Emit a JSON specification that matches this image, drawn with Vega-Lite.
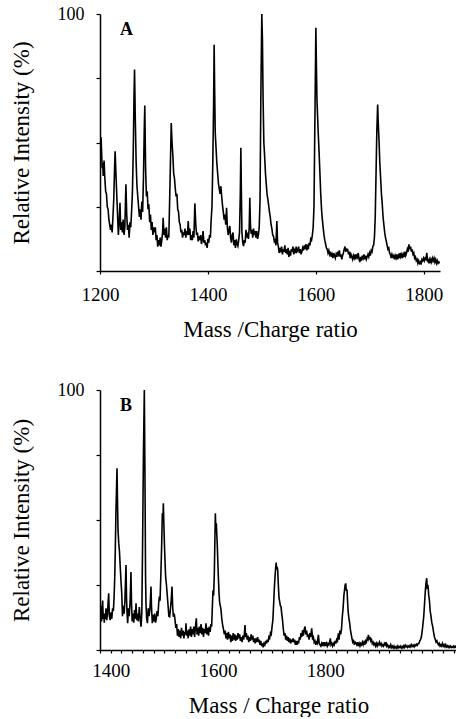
{
"$schema": "https://vega.github.io/schema/vega-lite/v6.json",
"background": "white",
"padding": {"left": 10, "top": 5, "right": 0, "bottom": 0},
"spacing": 40,
"config": {
  "view": {"stroke": null},
  "font": "'Liberation Serif', 'DejaVu Serif'",
  "axis": {"grid": false, "domainColor": "black", "domainWidth": 1.5, "tickColor": "black", "tickWidth": 1.2, "labelColor": "black", "titleColor": "black", "titleFontWeight": "normal", "labelFont": "'Liberation Serif', 'DejaVu Serif'", "titleFont": "'Liberation Serif', 'DejaVu Serif'", "labelOverlap": false, "labelFlush": false},
  "title": {"font": "'Liberation Serif', 'DejaVu Serif'", "fontWeight": "bold", "fontSize": 18, "color": "black", "anchor": "start", "frame": "group", "baseline": "alphabetic", "offset": -34, "dx": 20}
},
"datasets": {
"a": [
{"m":1200,"i":50},{"m":1201,"i":44},{"m":1202,"i":52},{"m":1203,"i":46},{"m":1204,"i":40},{"m":1205,"i":42},{"m":1206,"i":37},{"m":1207.5,"i":43},{"m":1209,"i":36},{"m":1210.5,"i":31},{"m":1212,"i":30},{"m":1213.5,"i":25},{"m":1215,"i":24},{"m":1216.5,"i":20},{"m":1218,"i":18},{"m":1219.5,"i":16},{"m":1221,"i":18},{"m":1222.5,"i":15},{"m":1224,"i":21},{"m":1225.5,"i":28},{"m":1227,"i":40},{"m":1228,"i":46.6},{"m":1229.5,"i":38},{"m":1231,"i":30},{"m":1232.5,"i":22},{"m":1234,"i":14},{"m":1235.5,"i":19},{"m":1237,"i":26.5},{"m":1238.5,"i":16},{"m":1240,"i":19},{"m":1241.5,"i":15},{"m":1243,"i":20},{"m":1244.5,"i":14},{"m":1246,"i":17},{"m":1247,"i":25},{"m":1248,"i":33.7},{"m":1249.5,"i":22},{"m":1251,"i":16},{"m":1252.5,"i":18},{"m":1254,"i":13},{"m":1255.5,"i":19},{"m":1257,"i":17},{"m":1258.5,"i":23},{"m":1260,"i":30},{"m":1261.5,"i":45},{"m":1263,"i":68},{"m":1264,"i":78.4},{"m":1265.5,"i":58},{"m":1267,"i":42},{"m":1268.5,"i":33},{"m":1270,"i":29},{"m":1271.5,"i":25},{"m":1273,"i":21},{"m":1274.5,"i":24},{"m":1276,"i":20},{"m":1277.5,"i":27},{"m":1279,"i":23},{"m":1280.5,"i":36},{"m":1282,"i":55},{"m":1283,"i":64.4},{"m":1284.5,"i":40},{"m":1286,"i":29},{"m":1287.5,"i":31},{"m":1289,"i":24},{"m":1290.5,"i":26},{"m":1292,"i":19},{"m":1293.5,"i":22},{"m":1295,"i":16},{"m":1296.5,"i":19},{"m":1298,"i":14},{"m":1299.5,"i":17},{"m":1301,"i":15},{"m":1302.5,"i":17},{"m":1304,"i":12},{"m":1305.5,"i":14},{"m":1307,"i":9.5},{"m":1308.5,"i":12},{"m":1310,"i":10},{"m":1311.5,"i":13},{"m":1313,"i":9.5},{"m":1314.5,"i":12},{"m":1316,"i":15},{"m":1317,"i":20.7},{"m":1318.5,"i":14},{"m":1320,"i":16.5},{"m":1321.5,"i":13},{"m":1323,"i":17},{"m":1324.5,"i":12},{"m":1326,"i":14},{"m":1327.5,"i":13},{"m":1329,"i":27},{"m":1330.5,"i":42},{"m":1332,"i":57.6},{"m":1333.5,"i":50},{"m":1335,"i":45},{"m":1336.5,"i":38},{"m":1338,"i":36},{"m":1339.5,"i":32},{"m":1341,"i":29},{"m":1342.5,"i":30},{"m":1344,"i":24},{"m":1345.5,"i":23},{"m":1347,"i":19},{"m":1348.5,"i":18},{"m":1350,"i":15},{"m":1351.5,"i":16},{"m":1353,"i":13},{"m":1354.5,"i":15},{"m":1356,"i":14},{"m":1357.5,"i":16.5},{"m":1359,"i":13},{"m":1360.5,"i":15.5},{"m":1362,"i":14},{"m":1363.5,"i":19.4},{"m":1365,"i":14},{"m":1366.5,"i":16.5},{"m":1368,"i":12},{"m":1369.5,"i":14},{"m":1371,"i":12},{"m":1372.5,"i":15.5},{"m":1374,"i":13},{"m":1375.8,"i":26.3},{"m":1377.5,"i":18},{"m":1379,"i":14},{"m":1380.5,"i":15},{"m":1382,"i":11.5},{"m":1383.5,"i":13.5},{"m":1385,"i":12},{"m":1386.5,"i":14},{"m":1388,"i":10.5},{"m":1389.5,"i":12.5},{"m":1391,"i":15.5},{"m":1392.5,"i":11},{"m":1394,"i":12},{"m":1395.5,"i":10},{"m":1397,"i":11},{"m":1398.5,"i":9},{"m":1400,"i":12.5},{"m":1401.5,"i":11},{"m":1403,"i":14},{"m":1404.5,"i":13},{"m":1406,"i":20},{"m":1407.5,"i":25},{"m":1409,"i":42},{"m":1410.5,"i":65},{"m":1411.5,"i":88},{"m":1412.5,"i":70},{"m":1413.5,"i":54},{"m":1415,"i":48},{"m":1416.5,"i":42},{"m":1418,"i":38},{"m":1419.5,"i":34},{"m":1421,"i":32},{"m":1422.5,"i":30},{"m":1424,"i":33},{"m":1425.5,"i":29},{"m":1427,"i":25.5},{"m":1428.5,"i":23},{"m":1430,"i":20},{"m":1431.5,"i":22},{"m":1433,"i":18},{"m":1434.5,"i":24.6},{"m":1436,"i":17},{"m":1437.5,"i":14},{"m":1439,"i":16},{"m":1440.5,"i":17.5},{"m":1442,"i":13},{"m":1443.5,"i":11},{"m":1445,"i":14},{"m":1446.5,"i":15},{"m":1448,"i":10},{"m":1449.5,"i":12},{"m":1451,"i":9},{"m":1452.5,"i":12.3},{"m":1454,"i":10.5},{"m":1455.5,"i":9.7},{"m":1457,"i":12},{"m":1458.5,"i":15},{"m":1460,"i":30},{"m":1461,"i":48},{"m":1462,"i":30},{"m":1463,"i":15},{"m":1464.5,"i":11},{"m":1466,"i":9.7},{"m":1467.5,"i":12},{"m":1469,"i":11},{"m":1470.5,"i":16},{"m":1472,"i":13},{"m":1473.5,"i":14},{"m":1475,"i":12.5},{"m":1476.5,"i":17},{"m":1477.6,"i":28.5},{"m":1478.8,"i":18},{"m":1480,"i":14.5},{"m":1481.5,"i":16},{"m":1483,"i":13},{"m":1484.5,"i":16.5},{"m":1486,"i":14},{"m":1487.5,"i":15.5},{"m":1489,"i":13},{"m":1490.5,"i":15.5},{"m":1492,"i":12.5},{"m":1493.5,"i":14},{"m":1495,"i":17},{"m":1496.5,"i":27},{"m":1498,"i":66.7},{"m":1499.8,"i":100},{"m":1501,"i":90},{"m":1502.2,"i":66.7},{"m":1503.6,"i":50},{"m":1505,"i":45},{"m":1506.6,"i":38},{"m":1508,"i":34},{"m":1509.5,"i":30},{"m":1511,"i":28},{"m":1512.8,"i":25},{"m":1514,"i":23},{"m":1515.5,"i":21},{"m":1517,"i":18},{"m":1518.5,"i":16.5},{"m":1520,"i":14},{"m":1521.5,"i":13.5},{"m":1523,"i":11.5},{"m":1524.5,"i":12},{"m":1526,"i":10},{"m":1527.7,"i":19.4},{"m":1529,"i":11},{"m":1530.5,"i":9.5},{"m":1532,"i":7},{"m":1533.5,"i":9},{"m":1535,"i":8},{"m":1536.5,"i":9.5},{"m":1538,"i":6.5},{"m":1539.5,"i":8.5},{"m":1541,"i":7.5},{"m":1542.5,"i":10},{"m":1544,"i":7},{"m":1545.5,"i":8.5},{"m":1547,"i":6.5},{"m":1548.5,"i":9},{"m":1550,"i":5.5},{"m":1551.5,"i":7},{"m":1553,"i":6},{"m":1554.5,"i":8.5},{"m":1556,"i":7.5},{"m":1557.5,"i":9.5},{"m":1559,"i":6.5},{"m":1560.5,"i":8},{"m":1562,"i":7},{"m":1563.5,"i":9.5},{"m":1565,"i":7.5},{"m":1566.5,"i":8},{"m":1568,"i":9.5},{"m":1569.5,"i":7},{"m":1571,"i":8.5},{"m":1572.5,"i":6.5},{"m":1574,"i":7.5},{"m":1575.5,"i":9},{"m":1577,"i":8},{"m":1578.5,"i":10},{"m":1580,"i":8.5},{"m":1581.5,"i":10.5},{"m":1583,"i":8},{"m":1584.5,"i":9.5},{"m":1586,"i":8.5},{"m":1587.5,"i":11},{"m":1589,"i":10},{"m":1590.5,"i":12.5},{"m":1592,"i":12},{"m":1593.5,"i":14},{"m":1595,"i":17},{"m":1596.5,"i":25},{"m":1598,"i":55},{"m":1600,"i":94.6},{"m":1601,"i":80},{"m":1602,"i":66.7},{"m":1603.2,"i":60},{"m":1604.5,"i":53},{"m":1606,"i":46},{"m":1607.5,"i":38},{"m":1609,"i":30},{"m":1610.5,"i":24},{"m":1612,"i":20},{"m":1613.5,"i":17},{"m":1615,"i":14},{"m":1616.5,"i":12},{"m":1618,"i":10.5},{"m":1619.5,"i":9},{"m":1621,"i":8.5},{"m":1622.5,"i":7},{"m":1624,"i":8},{"m":1625.5,"i":6.5},{"m":1627,"i":7.5},{"m":1628.5,"i":5.5},{"m":1630,"i":6.5},{"m":1631.5,"i":5},{"m":1633,"i":7},{"m":1634.5,"i":6},{"m":1636,"i":5},{"m":1637.5,"i":6.5},{"m":1639,"i":5.5},{"m":1640.5,"i":7.5},{"m":1642,"i":6.5},{"m":1643.5,"i":8},{"m":1645,"i":5.5},{"m":1646.5,"i":6.5},{"m":1648,"i":4.5},{"m":1649.5,"i":6},{"m":1651,"i":7},{"m":1652.5,"i":8.5},{"m":1654,"i":9.5},{"m":1655.5,"i":7.5},{"m":1657,"i":8.5},{"m":1658.8,"i":8.4},{"m":1660.5,"i":6.5},{"m":1662,"i":7.5},{"m":1663.5,"i":5},{"m":1665,"i":6.5},{"m":1666.5,"i":5.5},{"m":1668,"i":4.5},{"m":1669.5,"i":6},{"m":1671,"i":5},{"m":1672.5,"i":6.5},{"m":1674,"i":4.5},{"m":1675.5,"i":6.5},{"m":1677,"i":5.5},{"m":1678.5,"i":7},{"m":1680,"i":4.5},{"m":1681.5,"i":3.5},{"m":1683,"i":5.5},{"m":1684.5,"i":4},{"m":1686,"i":6},{"m":1687.5,"i":5},{"m":1689,"i":6.5},{"m":1690.5,"i":4.5},{"m":1692,"i":6},{"m":1693.5,"i":4.5},{"m":1695,"i":5.5},{"m":1696.5,"i":6.5},{"m":1698,"i":5.5},{"m":1699.5,"i":7},{"m":1701,"i":6},{"m":1702.5,"i":8},{"m":1704,"i":7.5},{"m":1705.5,"i":9.5},{"m":1707,"i":10},{"m":1708.5,"i":13},{"m":1710,"i":21},{"m":1711.5,"i":38},{"m":1713,"i":55},{"m":1714.5,"i":64.8},{"m":1715.5,"i":58},{"m":1717,"i":51},{"m":1718.5,"i":42},{"m":1720,"i":36},{"m":1721.5,"i":30},{"m":1723,"i":26},{"m":1724.5,"i":21},{"m":1726,"i":18},{"m":1727.5,"i":15},{"m":1729,"i":13},{"m":1730.5,"i":11.5},{"m":1732,"i":10},{"m":1733.5,"i":8.5},{"m":1735,"i":9},{"m":1736.5,"i":7},{"m":1738,"i":6.5},{"m":1739.5,"i":5},{"m":1741,"i":6.5},{"m":1742.5,"i":5.5},{"m":1744,"i":6},{"m":1745.5,"i":4.5},{"m":1747,"i":6},{"m":1748.5,"i":5},{"m":1750,"i":6.5},{"m":1751.5,"i":4.5},{"m":1753,"i":6},{"m":1754.5,"i":5},{"m":1756,"i":7},{"m":1757.5,"i":5.5},{"m":1759,"i":6.5},{"m":1760.5,"i":5},{"m":1762,"i":6.5},{"m":1763.5,"i":5.5},{"m":1765,"i":7.5},{"m":1766.5,"i":6},{"m":1768,"i":7},{"m":1769.5,"i":8.5},{"m":1771,"i":7.5},{"m":1772.5,"i":10.4},{"m":1774,"i":8.5},{"m":1775.5,"i":9.5},{"m":1777,"i":7.5},{"m":1778.5,"i":8.4},{"m":1780,"i":6.5},{"m":1781.5,"i":7},{"m":1783,"i":5},{"m":1784.5,"i":5.5},{"m":1786,"i":4},{"m":1787.5,"i":4.5},{"m":1789,"i":3},{"m":1790.5,"i":4},{"m":1792,"i":3},{"m":1793.5,"i":3.5},{"m":1795,"i":2.5},{"m":1796.5,"i":4.5},{"m":1798,"i":4},{"m":1799.5,"i":5},{"m":1801,"i":4},{"m":1802.5,"i":5},{"m":1804,"i":4.5},{"m":1805.5,"i":7.1},{"m":1807,"i":4},{"m":1808.5,"i":3.5},{"m":1810,"i":4.5},{"m":1811.5,"i":3},{"m":1813,"i":4.5},{"m":1814.5,"i":3.5},{"m":1816,"i":5},{"m":1817.5,"i":4},{"m":1819,"i":5},{"m":1820.5,"i":3.5},{"m":1822,"i":4.5},{"m":1823.5,"i":3},{"m":1825,"i":4},{"m":1826.5,"i":3},{"m":1828,"i":3.5},{"m":1829.5,"i":3}
],
"b": [
{"m":1380,"i":25},{"m":1381,"i":13},{"m":1382,"i":17},{"m":1383,"i":11},{"m":1384,"i":15},{"m":1385,"i":19},{"m":1386,"i":12},{"m":1387,"i":14},{"m":1388,"i":10.5},{"m":1389,"i":14},{"m":1390,"i":12},{"m":1391.2,"i":16},{"m":1392.5,"i":11.5},{"m":1394,"i":14},{"m":1395,"i":18},{"m":1396.2,"i":21.8},{"m":1397.5,"i":13},{"m":1399,"i":11.5},{"m":1400.5,"i":14.5},{"m":1402,"i":12},{"m":1403.5,"i":16},{"m":1405,"i":15},{"m":1406.3,"i":20.5},{"m":1407.5,"i":28},{"m":1408.5,"i":38},{"m":1409.8,"i":53.8},{"m":1410.8,"i":62},{"m":1411.7,"i":69.9},{"m":1412.6,"i":58},{"m":1413.6,"i":46},{"m":1415,"i":41},{"m":1416.3,"i":38},{"m":1417.5,"i":33},{"m":1419,"i":27},{"m":1420.5,"i":22},{"m":1422,"i":13},{"m":1423.5,"i":17},{"m":1425,"i":14},{"m":1426.5,"i":19},{"m":1427.5,"i":26},{"m":1428.5,"i":32.7},{"m":1429.5,"i":20},{"m":1430.5,"i":14},{"m":1431.6,"i":10.3},{"m":1433,"i":16},{"m":1434.5,"i":13},{"m":1436,"i":18},{"m":1437,"i":24},{"m":1437.8,"i":30},{"m":1438.8,"i":18},{"m":1440,"i":11},{"m":1441.5,"i":14},{"m":1443,"i":10.5},{"m":1444.5,"i":15.4},{"m":1446,"i":12},{"m":1447.2,"i":18},{"m":1448.5,"i":11.5},{"m":1450,"i":14},{"m":1451.5,"i":11},{"m":1453.4,"i":16.5},{"m":1455,"i":12},{"m":1456.5,"i":9},{"m":1458,"i":14},{"m":1459.6,"i":43.6},{"m":1461,"i":75},{"m":1462.7,"i":100},{"m":1463.8,"i":69},{"m":1465,"i":28},{"m":1465.8,"i":18},{"m":1467,"i":12},{"m":1468.5,"i":10.3},{"m":1470,"i":16},{"m":1471.5,"i":13},{"m":1473,"i":15.4},{"m":1474.2,"i":20},{"m":1475.1,"i":24.4},{"m":1476.2,"i":16},{"m":1477.6,"i":10.3},{"m":1479,"i":13.5},{"m":1480.5,"i":11},{"m":1482,"i":14},{"m":1483.5,"i":10.5},{"m":1485,"i":12},{"m":1486.5,"i":15},{"m":1488,"i":13},{"m":1489.5,"i":18},{"m":1490.7,"i":20.5},{"m":1492,"i":19},{"m":1493.8,"i":30.8},{"m":1495,"i":40},{"m":1496.3,"i":52.6},{"m":1497.3,"i":50},{"m":1498.2,"i":56.4},{"m":1499.2,"i":48},{"m":1500.3,"i":40},{"m":1501.5,"i":33},{"m":1502.5,"i":28},{"m":1504,"i":25},{"m":1505.5,"i":21},{"m":1507,"i":17},{"m":1508.5,"i":13},{"m":1510,"i":12.8},{"m":1511.5,"i":16},{"m":1512.8,"i":19},{"m":1514.3,"i":24.4},{"m":1515.5,"i":17},{"m":1516.8,"i":12.8},{"m":1518.5,"i":14},{"m":1520,"i":11.5},{"m":1521.5,"i":8.5},{"m":1523,"i":10},{"m":1524.5,"i":5.5},{"m":1526,"i":8},{"m":1527.5,"i":5},{"m":1529,"i":7.5},{"m":1530.5,"i":4.5},{"m":1532,"i":8.5},{"m":1533.5,"i":5.5},{"m":1535,"i":7.5},{"m":1536.5,"i":4.5},{"m":1538,"i":7},{"m":1539.5,"i":6},{"m":1540.4,"i":10.3},{"m":1541.5,"i":5.5},{"m":1543,"i":7.5},{"m":1544.5,"i":4.5},{"m":1546,"i":8},{"m":1547.5,"i":5.5},{"m":1549,"i":9},{"m":1550.5,"i":5},{"m":1552,"i":8},{"m":1553.5,"i":6},{"m":1555,"i":9},{"m":1556.5,"i":5},{"m":1558,"i":8.5},{"m":1559.7,"i":12.2},{"m":1561,"i":6},{"m":1562.5,"i":8.5},{"m":1564,"i":5.5},{"m":1565.5,"i":9},{"m":1567,"i":6.5},{"m":1568.5,"i":10},{"m":1570,"i":6},{"m":1571.5,"i":8.5},{"m":1573,"i":5},{"m":1574.5,"i":8},{"m":1576,"i":6.5},{"m":1577.8,"i":10.3},{"m":1579.3,"i":6},{"m":1581,"i":8.5},{"m":1582.5,"i":5.5},{"m":1584,"i":9},{"m":1585.5,"i":7},{"m":1587,"i":10},{"m":1588.3,"i":9},{"m":1589.5,"i":16},{"m":1590.8,"i":23},{"m":1592,"i":21},{"m":1593.3,"i":29.5},{"m":1594.3,"i":42},{"m":1595.2,"i":52.6},{"m":1596.1,"i":46},{"m":1597,"i":48.7},{"m":1598,"i":44},{"m":1598.9,"i":39.7},{"m":1600,"i":33},{"m":1600.8,"i":28.2},{"m":1602,"i":22},{"m":1603.3,"i":18},{"m":1604.5,"i":17},{"m":1605.8,"i":15.4},{"m":1607.2,"i":12},{"m":1608.8,"i":9.6},{"m":1610.3,"i":8},{"m":1612,"i":6},{"m":1613.5,"i":7.5},{"m":1615,"i":4.5},{"m":1616.5,"i":6.5},{"m":1618,"i":4},{"m":1619.5,"i":7},{"m":1621,"i":4.5},{"m":1622.5,"i":6},{"m":1624,"i":3},{"m":1625.5,"i":5.5},{"m":1627,"i":3.5},{"m":1628.5,"i":6.5},{"m":1630,"i":4},{"m":1631.5,"i":6},{"m":1633,"i":3.5},{"m":1634.5,"i":5.5},{"m":1636,"i":4},{"m":1637.5,"i":6.5},{"m":1639,"i":4.5},{"m":1640.5,"i":6},{"m":1642,"i":3.5},{"m":1643.5,"i":5},{"m":1645,"i":3},{"m":1646.5,"i":5.5},{"m":1648,"i":4},{"m":1649.5,"i":6.5},{"m":1650.5,"i":9.6},{"m":1651.5,"i":5},{"m":1653,"i":6.5},{"m":1654.5,"i":4},{"m":1656,"i":5.5},{"m":1657.5,"i":3},{"m":1659,"i":5},{"m":1660.5,"i":3.5},{"m":1662,"i":6},{"m":1663.5,"i":4},{"m":1665,"i":5.5},{"m":1666.5,"i":3},{"m":1668,"i":4.5},{"m":1669.5,"i":2.5},{"m":1671,"i":4.5},{"m":1672.5,"i":3},{"m":1674,"i":5},{"m":1675.5,"i":3},{"m":1677,"i":4},{"m":1678.5,"i":2},{"m":1680,"i":3.5},{"m":1681.5,"i":1.5},{"m":1683,"i":2.5},{"m":1684.5,"i":1},{"m":1686,"i":2.5},{"m":1687.5,"i":2},{"m":1689,"i":3.5},{"m":1690.5,"i":2.5},{"m":1692,"i":4},{"m":1693.5,"i":3},{"m":1695,"i":5},{"m":1696.5,"i":4.5},{"m":1698,"i":6.5},{"m":1699.5,"i":6},{"m":1701,"i":9},{"m":1702.5,"i":11.5},{"m":1704,"i":18},{"m":1705.3,"i":24},{"m":1706.5,"i":28.2},{"m":1707.5,"i":31},{"m":1708.6,"i":33.6},{"m":1709.6,"i":31},{"m":1710.5,"i":32},{"m":1711.5,"i":30.8},{"m":1712.7,"i":25},{"m":1714,"i":20},{"m":1715.3,"i":18.5},{"m":1716.5,"i":17},{"m":1717.7,"i":16.7},{"m":1719,"i":14},{"m":1720.5,"i":11.5},{"m":1722,"i":8},{"m":1723.5,"i":5.5},{"m":1725,"i":6.5},{"m":1726.5,"i":4},{"m":1728,"i":5.5},{"m":1729.5,"i":3.5},{"m":1731,"i":5},{"m":1732.5,"i":3},{"m":1734,"i":4.5},{"m":1735.5,"i":2.5},{"m":1737,"i":4},{"m":1738.5,"i":3},{"m":1740,"i":4.5},{"m":1741.5,"i":3},{"m":1743,"i":4},{"m":1744.5,"i":2},{"m":1746,"i":3.5},{"m":1747.5,"i":2},{"m":1749,"i":3.5},{"m":1750.5,"i":2.5},{"m":1752,"i":5},{"m":1753.5,"i":4},{"m":1755,"i":6.5},{"m":1756.5,"i":5},{"m":1758,"i":7.7},{"m":1759.5,"i":5.5},{"m":1761,"i":8},{"m":1762.5,"i":9},{"m":1764,"i":6},{"m":1765.5,"i":7.5},{"m":1767,"i":5},{"m":1768.5,"i":6},{"m":1770,"i":4},{"m":1771.5,"i":6.5},{"m":1773,"i":5},{"m":1774.9,"i":8.3},{"m":1776.5,"i":4.5},{"m":1778,"i":5},{"m":1779.5,"i":3},{"m":1781,"i":3.5},{"m":1782.5,"i":2},{"m":1784,"i":3},{"m":1785.5,"i":2.5},{"m":1787.4,"i":5.8},{"m":1789,"i":2.5},{"m":1790.5,"i":2},{"m":1792,"i":1.5},{"m":1793.5,"i":2.5},{"m":1795,"i":1.5},{"m":1796.5,"i":3},{"m":1798,"i":2},{"m":1799.5,"i":3},{"m":1801,"i":1.5},{"m":1802.5,"i":2.5},{"m":1804,"i":1.5},{"m":1805.5,"i":2.5},{"m":1807,"i":2},{"m":1808.5,"i":3},{"m":1809.8,"i":4.5},{"m":1811,"i":2},{"m":1812.5,"i":2.5},{"m":1814,"i":1.5},{"m":1815.5,"i":2.5},{"m":1817,"i":2},{"m":1818.5,"i":3.5},{"m":1820,"i":2.5},{"m":1821.5,"i":4},{"m":1823,"i":3.5},{"m":1824.7,"i":6.4},{"m":1826,"i":4},{"m":1827.5,"i":7.5},{"m":1829,"i":6},{"m":1830.5,"i":8},{"m":1832,"i":12.8},{"m":1833.5,"i":16},{"m":1835,"i":21},{"m":1836.2,"i":23},{"m":1837.3,"i":25},{"m":1838.4,"i":25.6},{"m":1839.5,"i":23},{"m":1840.9,"i":23},{"m":1842,"i":18},{"m":1843.3,"i":14},{"m":1844.5,"i":12},{"m":1845.8,"i":10.3},{"m":1847,"i":8},{"m":1848.3,"i":6.4},{"m":1850,"i":4.5},{"m":1851.5,"i":3},{"m":1853,"i":3.5},{"m":1854.5,"i":2},{"m":1856,"i":3},{"m":1857.6,"i":2.6},{"m":1859,"i":2},{"m":1860.5,"i":3},{"m":1862,"i":1.5},{"m":1863.5,"i":2.5},{"m":1865,"i":1.5},{"m":1866.5,"i":2.5},{"m":1868,"i":2},{"m":1869.5,"i":3},{"m":1871,"i":2},{"m":1872.5,"i":3},{"m":1874,"i":2},{"m":1875.5,"i":3.5},{"m":1877,"i":3},{"m":1878.5,"i":4.5},{"m":1880,"i":4},{"m":1880.7,"i":5.8},{"m":1882,"i":4},{"m":1883.5,"i":5},{"m":1885,"i":3.5},{"m":1886.5,"i":4},{"m":1888,"i":2.5},{"m":1889.5,"i":3},{"m":1891,"i":2},{"m":1892.5,"i":2.5},{"m":1894,"i":1.5},{"m":1895.5,"i":2.5},{"m":1897,"i":1.5},{"m":1898.5,"i":2.5},{"m":1900,"i":2},{"m":1901.5,"i":3},{"m":1903,"i":2},{"m":1904.5,"i":2.5},{"m":1906,"i":1.5},{"m":1907.5,"i":2},{"m":1909,"i":1.5},{"m":1910.5,"i":2.5},{"m":1912,"i":2},{"m":1913.5,"i":3},{"m":1915,"i":1.5},{"m":1916.5,"i":2},{"m":1918,"i":1},{"m":1919.5,"i":1.5},{"m":1921,"i":1},{"m":1922.5,"i":2},{"m":1924,"i":1},{"m":1925.5,"i":1.5},{"m":1927,"i":0.8},{"m":1928.5,"i":1.5},{"m":1930,"i":0.8},{"m":1931.5,"i":1.2},{"m":1933,"i":0.7},{"m":1934.5,"i":1.5},{"m":1936,"i":0.8},{"m":1937.5,"i":1.4},{"m":1939,"i":1},{"m":1940.5,"i":1.5},{"m":1942,"i":0.8},{"m":1943.5,"i":1.3},{"m":1945,"i":0.8},{"m":1946.5,"i":1.6},{"m":1948,"i":1},{"m":1949.5,"i":1.8},{"m":1951,"i":1.2},{"m":1952.5,"i":1.6},{"m":1954,"i":1},{"m":1955.5,"i":1.5},{"m":1957,"i":1.2},{"m":1958.5,"i":1.8},{"m":1960,"i":1.2},{"m":1961.5,"i":2},{"m":1963,"i":1.4},{"m":1964.5,"i":1.8},{"m":1966,"i":1.2},{"m":1967.5,"i":2},{"m":1969,"i":1.6},{"m":1970.5,"i":2.2},{"m":1972,"i":1.8},{"m":1973.5,"i":2.5},{"m":1975,"i":2.5},{"m":1976.5,"i":3.5},{"m":1978,"i":4},{"m":1979.5,"i":5},{"m":1980.5,"i":6.4},{"m":1982,"i":9},{"m":1983.9,"i":12.8},{"m":1985.5,"i":18},{"m":1987,"i":23},{"m":1988.3,"i":26},{"m":1989.5,"i":27.6},{"m":1990.5,"i":24},{"m":1992,"i":24.4},{"m":1993.3,"i":21},{"m":1994.5,"i":19.2},{"m":1996,"i":15},{"m":1997.6,"i":12.8},{"m":1999,"i":10.5},{"m":2000.7,"i":9},{"m":2002.2,"i":7},{"m":2003.8,"i":5.1},{"m":2005.5,"i":4},{"m":2007,"i":3},{"m":2008.5,"i":3.5},{"m":2010,"i":2.6},{"m":2011.5,"i":2},{"m":2013,"i":2.5},{"m":2014.5,"i":1.5},{"m":2016,"i":2},{"m":2017.5,"i":1.5},{"m":2019,"i":2.5},{"m":2020.5,"i":1.5},{"m":2022,"i":2},{"m":2023.5,"i":1.2},{"m":2025,"i":2},{"m":2026.5,"i":1.2},{"m":2028,"i":1.6},{"m":2029.5,"i":1},{"m":2031,"i":1.5},{"m":2032.5,"i":1},{"m":2034,"i":1.5},{"m":2035.5,"i":1},{"m":2037,"i":1.3},{"m":2038.5,"i":1},{"m":2040,"i":1.5},{"m":2041.5,"i":1},{"m":2043,"i":1.4},{"m":2044.5,"i":1},{"m":2046,"i":1.3}
]
},
"vconcat": [
{
  "width": 340, "height": 257,
  "title": {"text": "A"},
  "data": {"name": "a"},
  "mark": {"type": "line", "color": "black", "strokeWidth": 1.6, "clip": true},
  "encoding": {
    "x": {"field": "m", "type": "quantitative", "scale": {"domain": [1200, 1830], "nice": false, "zero": false},
          "axis": {"title": "Mass /Charge ratio", "titleFontSize": 23, "titlePadding": 14, "values": [1200, 1400, 1600, 1800], "format": "d", "labelFontSize": 19, "tickSize": 3, "labelPadding": 11}},
    "y": {"field": "i", "type": "quantitative", "scale": {"domain": [0, 100], "nice": false},
          "axis": {"title": "Relative Intensity (%)", "titleFontSize": 23, "titlePadding": 24, "values": [0, 25, 50, 75, 100], "labelExpr": "datum.value == 100 ? '100' : ''", "labelFontSize": 18, "tickSize": 4, "labelPadding": 12}}
  }
},
{
  "width": 357, "height": 260,
  "title": {"text": "B"},
  "data": {"name": "b"},
  "mark": {"type": "line", "color": "black", "strokeWidth": 1.6, "clip": true},
  "encoding": {
    "x": {"field": "m", "type": "quantitative", "scale": {"domain": [1380, 2046], "nice": false, "zero": false},
          "axis": {"title": "Mass / Charge ratio", "titleFontSize": 23, "titlePadding": 14, "values": [1380,1400,1420,1440,1460,1480,1500,1520,1540,1560,1580,1600,1620,1640,1660,1680,1700,1720,1740,1760,1780,1800,1820,1840,1860,1880,1900,1920,1940,1960,1980,2000,2020,2040], "format": "d", "labelExpr": "(datum.value % 200 == 0 && datum.value < 1900) ? datum.label : ''", "labelFontSize": 19, "tickSize": 3, "labelPadding": 8}},
    "y": {"field": "i", "type": "quantitative", "scale": {"domain": [0, 100], "nice": false},
          "axis": {"title": "Relative Intensity (%)", "titleFontSize": 23, "titlePadding": 24, "values": [0, 25, 50, 75, 100], "labelExpr": "datum.value == 100 ? '100' : ''", "labelFontSize": 18, "tickSize": 4, "labelPadding": 12}}
  }
}
]
}
